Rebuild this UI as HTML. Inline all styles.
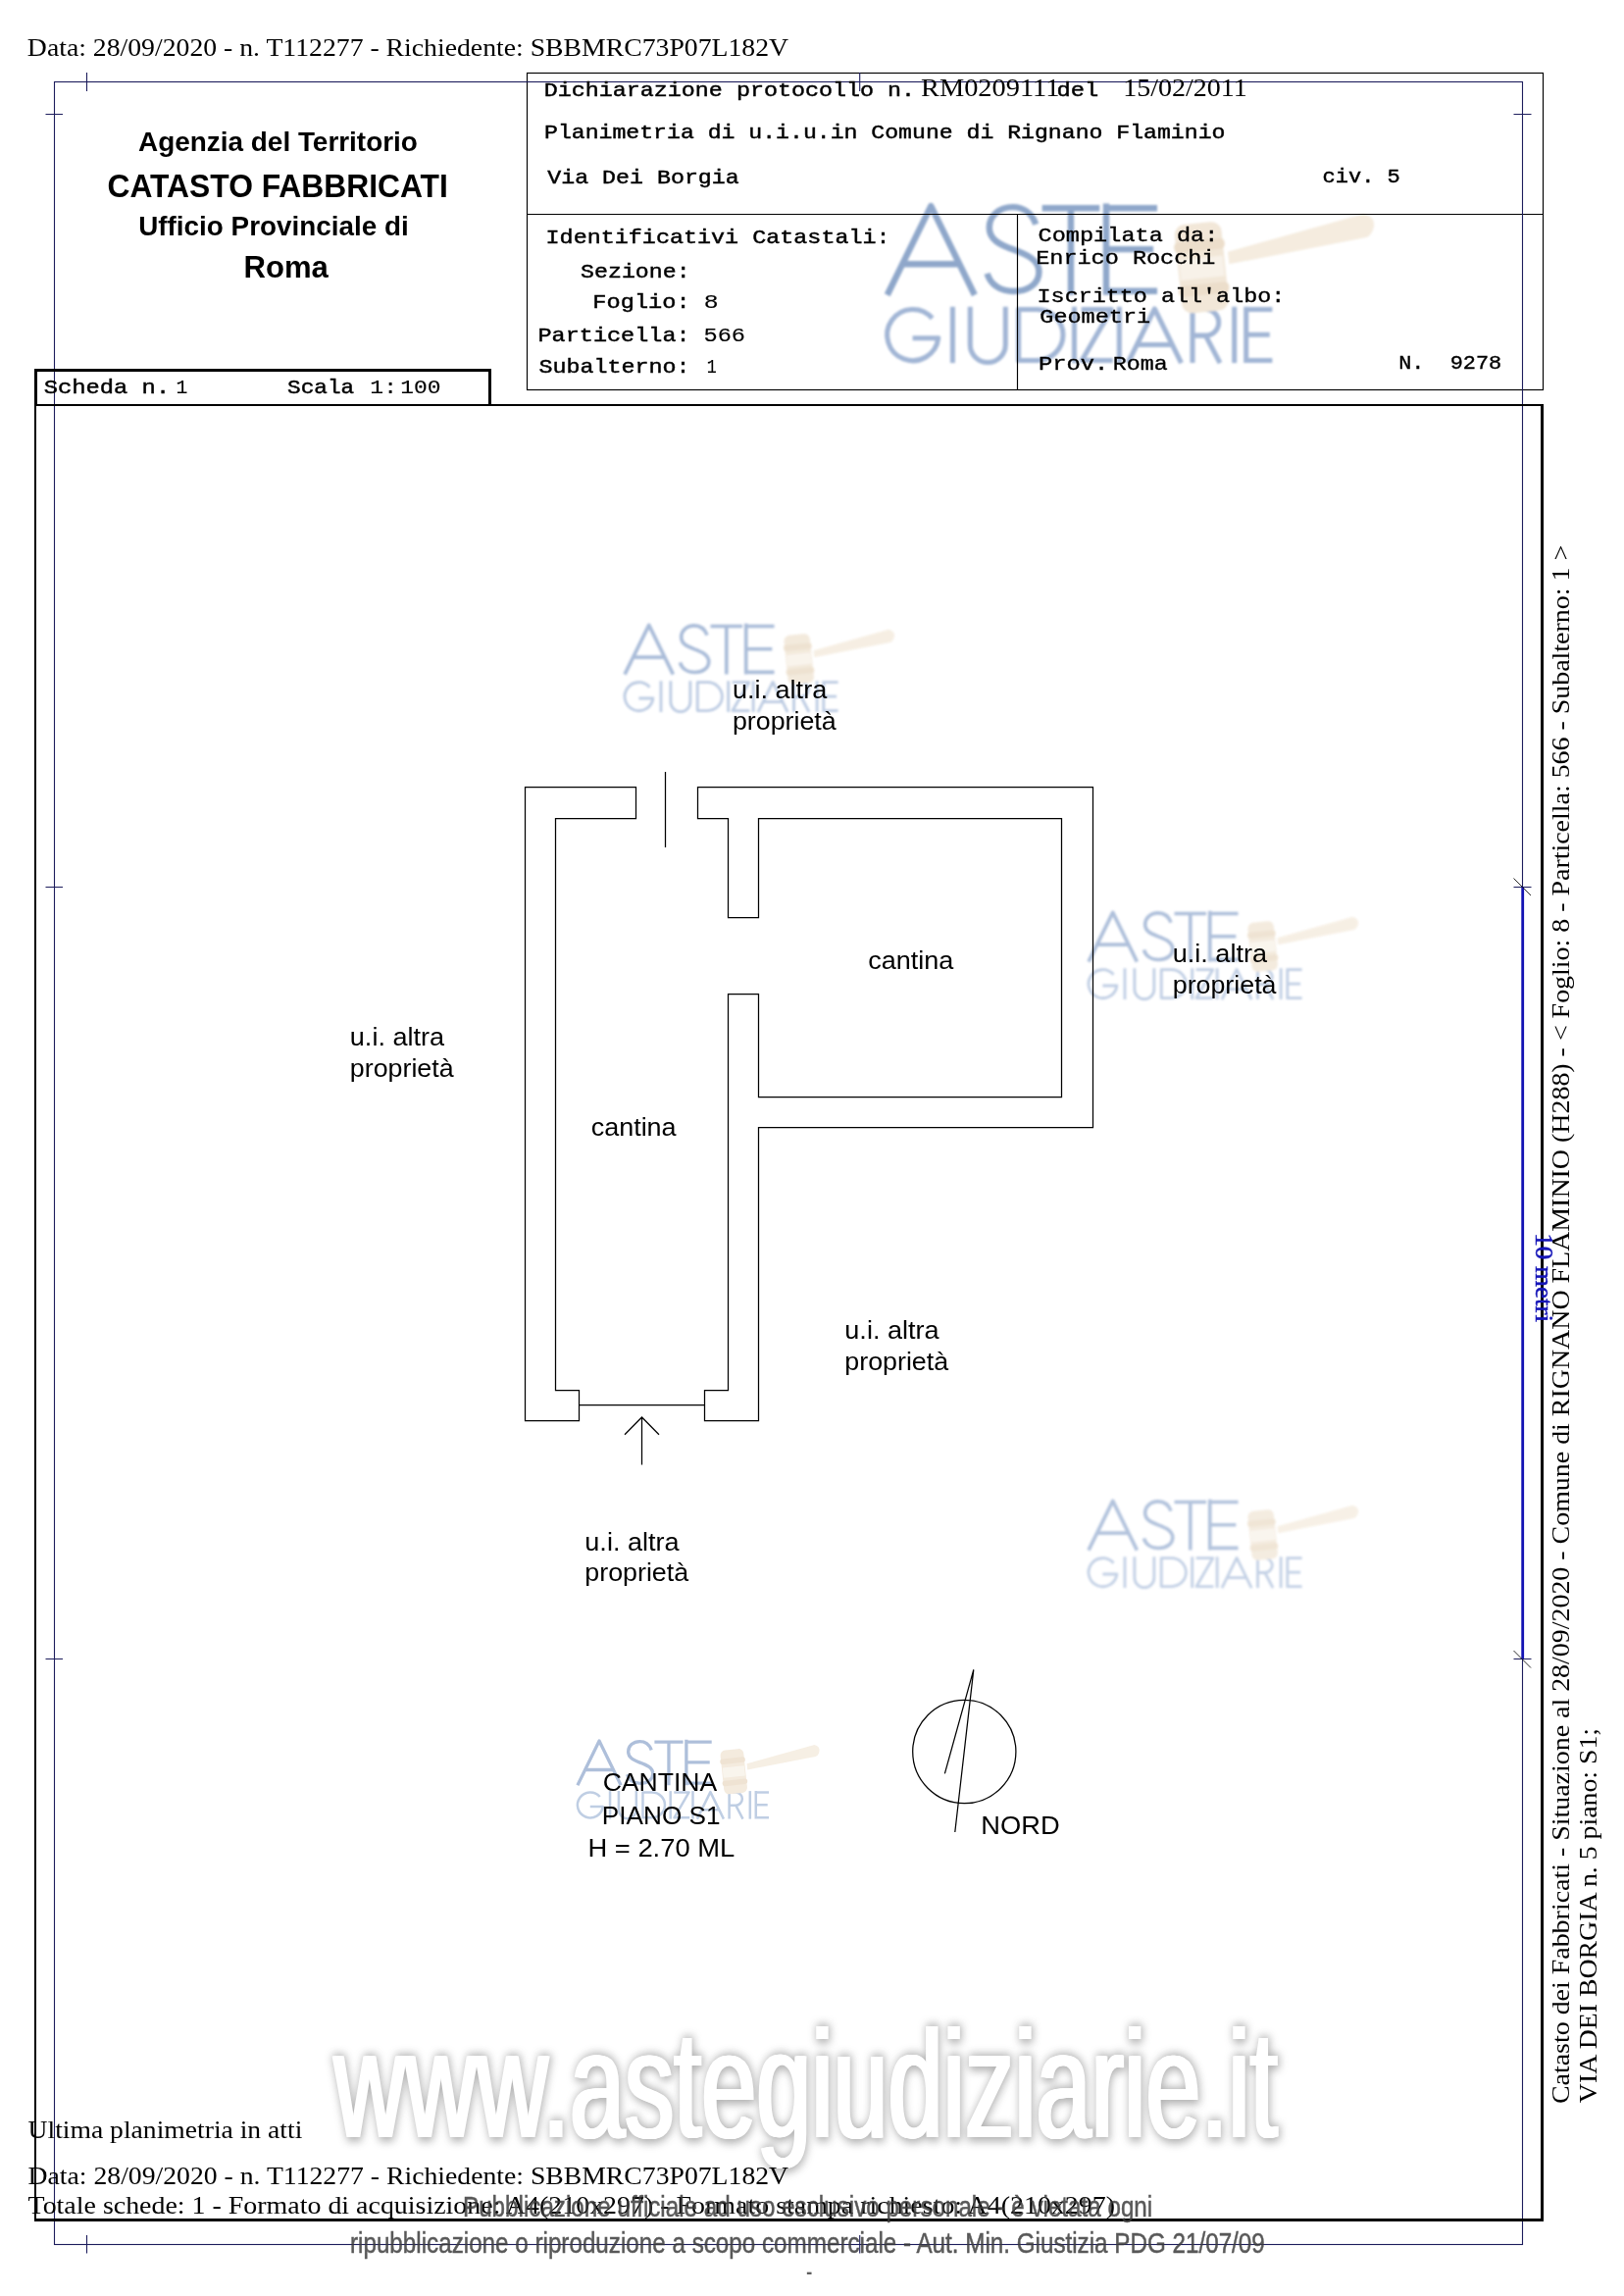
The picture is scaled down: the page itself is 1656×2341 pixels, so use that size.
<!DOCTYPE html>
<html><head><meta charset="utf-8"><title>Planimetria</title>
<style>html,body{margin:0;padding:0;background:#fff}svg{display:block;will-change:transform}text{white-space:pre}</style></head>
<body>
<svg width="1656" height="2341" viewBox="0 0 1656 2341">
<defs>
<filter id="blur4" x="-5%" y="-20%" width="110%" height="140%"><feGaussianBlur stdDeviation="4.2"/></filter>
<filter id="lblur" x="-5%" y="-5%" width="110%" height="110%"><feGaussianBlur stdDeviation="5.5"/></filter>
<filter id="lblurH" x="-5%" y="-5%" width="110%" height="110%"><feGaussianBlur stdDeviation="3.5"/></filter>
<filter id="blur2" x="-5%" y="-20%" width="110%" height="140%"><feGaussianBlur stdDeviation="1.5"/></filter>

<g id="logo" fill="none" stroke-linejoin="round" filter="url(#lblur)">
 <g stroke="#a6b9d7" stroke-width="25">
  <path d="M68,410 L235,70 L402,410 M128,292 L345,292"/>
  <path d="M636,140 C620,95 585,74 548,74 C495,74 458,108 458,152 C458,200 500,218 548,236 C600,255 648,275 648,322 C648,368 605,396 552,396 C500,396 462,370 450,328"/>
  <path d="M660,78 L880,78 M770,78 L770,410"/>
  <path d="M905,60 L905,410 M905,78 L1100,78 M905,235 L1085,235 M905,395 L1100,395"/>
 </g>
 <g stroke="#b9c9e1" stroke-width="19">
  <path d="M240,499 A98,98 0 1 0 263,575 L165,575"/>
  <path d="M318,455 L318,670"/>
  <path d="M385,455 L385,600 A67.5,67.5 0 0 0 520,600 L520,455"/>
  <path d="M570,660 L570,465 L640,465 A100,97.5 0 0 1 640,660 Z"/>
  <path d="M783,455 L783,670"/>
  <path d="M810,465 L925,465 L812,660 L930,660"/>
  <path d="M955,455 L955,670"/>
  <path d="M988,670 L1090,463 L1192,670 M1020,600 L1160,600"/>
  <path d="M1235,670 L1235,465 L1285,465 A50,50 0 0 1 1285,565 L1235,565 M1285,565 L1340,670"/>
  <path d="M1395,455 L1395,670"/>
  <path d="M1440,455 L1440,670 M1440,465 L1540,465 M1440,562 L1530,562 M1440,660 L1540,660"/>
 </g>
 <g stroke="none">
  <path d="M1370,245 L1890,100 Q1935,112 1928,150 Q1920,182 1900,190 L1375,292 Z" fill="#f6eee2"/>
  <g transform="rotate(-6 1270 305)">
   <rect x="1180" y="135" width="180" height="340" rx="40" fill="#f3e9db"/>
   <rect x="1173" y="200" width="194" height="42" rx="18" fill="#eee1cf"/>
   <rect x="1173" y="368" width="194" height="42" rx="18" fill="#eee1cf"/>
   <rect x="1186" y="268" width="168" height="78" fill="#f9f4ec"/>
  </g>
 </g>
</g>
<g id="logoH" fill="none" stroke-linejoin="round" filter="url(#lblurH)">
 <g stroke="#8fa7ca" stroke-width="24">
  <path d="M68,410 L235,70 L402,410 M128,292 L345,292"/>
  <path d="M636,140 C620,95 585,74 548,74 C495,74 458,108 458,152 C458,200 500,218 548,236 C600,255 648,275 648,322 C648,368 605,396 552,396 C500,396 462,370 450,328"/>
  <path d="M660,78 L880,78 M770,78 L770,410"/>
  <path d="M905,60 L905,410 M905,78 L1100,78 M905,235 L1085,235 M905,395 L1100,395"/>
 </g>
 <g stroke="#a2b6d5" stroke-width="19">
  <path d="M240,499 A98,98 0 1 0 263,575 L165,575"/>
  <path d="M318,455 L318,670"/>
  <path d="M385,455 L385,600 A67.5,67.5 0 0 0 520,600 L520,455"/>
  <path d="M570,660 L570,465 L640,465 A100,97.5 0 0 1 640,660 Z"/>
  <path d="M783,455 L783,670"/>
  <path d="M810,465 L925,465 L812,660 L930,660"/>
  <path d="M955,455 L955,670"/>
  <path d="M988,670 L1090,463 L1192,670 M1020,600 L1160,600"/>
  <path d="M1235,670 L1235,465 L1285,465 A50,50 0 0 1 1285,565 L1235,565 M1285,565 L1340,670"/>
  <path d="M1395,455 L1395,670"/>
  <path d="M1440,455 L1440,670 M1440,465 L1540,465 M1440,562 L1530,562 M1440,660 L1540,660"/>
 </g>
 <g stroke="none">
  <path d="M1370,245 L1890,100 Q1935,112 1928,150 Q1920,182 1900,190 L1375,292 Z" fill="#f5ecdf"/>
  <g transform="rotate(-6 1270 305)">
   <rect x="1180" y="135" width="180" height="340" rx="40" fill="#f2e7d8"/>
   <rect x="1173" y="200" width="194" height="42" rx="18" fill="#ecdecb"/>
   <rect x="1173" y="368" width="194" height="42" rx="18" fill="#ecdecb"/>
   <rect x="1186" y="268" width="168" height="78" fill="#f8f2e9"/>
  </g>
 </g>
</g>
</defs>
<rect width="1656" height="2341" fill="#fff"/>
<g id="wm">
<use href="#logoH" transform="translate(886.60,191.40) scale(0.26674)" opacity="1.0"/>
<use href="#logo" transform="translate(627.00,627.00) scale(0.14778)" opacity="0.95"/>
<use href="#logo" transform="translate(1100.00,920.00) scale(0.14778)" opacity="0.9"/>
<use href="#logo" transform="translate(1100.00,1520.00) scale(0.14778)" opacity="0.85"/>
<use href="#logo" transform="translate(579.90,1765.80) scale(0.13256)" opacity="0.9"/>
</g>
<g id="bigwm"><text x="341.57" y="2179.50" textLength="962.08" lengthAdjust="spacingAndGlyphs" font-family="'Liberation Sans',sans-serif" font-size="156" fill="#6a6a6a" stroke="#6a6a6a" stroke-width="7" stroke-linejoin="round" filter="url(#blur4)" opacity="0.52">www.astegiudiziarie.it</text><text x="338.87" y="2178.50" textLength="962.08" lengthAdjust="spacingAndGlyphs" font-family="'Liberation Sans',sans-serif" font-size="156" fill="#fff">www.astegiudiziarie.it</text><text x="339.72" y="2178.50" textLength="962.08" lengthAdjust="spacingAndGlyphs" font-family="'Liberation Sans',sans-serif" font-size="156" fill="#fff">www.astegiudiziarie.it</text><text x="340.57" y="2178.50" textLength="962.08" lengthAdjust="spacingAndGlyphs" font-family="'Liberation Sans',sans-serif" font-size="156" fill="#fff">www.astegiudiziarie.it</text><text x="341.42" y="2178.50" textLength="962.08" lengthAdjust="spacingAndGlyphs" font-family="'Liberation Sans',sans-serif" font-size="156" fill="#fff">www.astegiudiziarie.it</text><text x="342.27" y="2178.50" textLength="962.08" lengthAdjust="spacingAndGlyphs" font-family="'Liberation Sans',sans-serif" font-size="156" fill="#fff">www.astegiudiziarie.it</text></g>
<g id="lines">
<g fill="none" stroke="#000" stroke-width="1.15"><rect x="537.5" y="74.5" width="1036" height="323"/><path d="M537.5,218.5 H1573.5 M1037.5,218.5 V397.5"/></g>
<g fill="none" stroke="#1d1d5c" stroke-width="1.1"><rect x="55.5" y="83.5" width="1497" height="2205"/><path d="M88.5,74 V93 M88.5,2279 V2297.5 M876.7,74 V93 M876.7,2279 V2297.5 M46.5,116.5 H64 M1543.5,116.5 H1561.5 M46.5,904.5 H64 M1543.5,904.5 H1561.5 M46.5,1691.5 H64 M1543.5,1691.5 H1561.5"/></g>
<path d="M1552.7,904.5 V1691.5" stroke="#1313b4" stroke-width="2.8" fill="none"/>
<path d="M1543.5,895.5 L1561,913 M1543.5,1683 L1561,1700.5" stroke="#111" stroke-width="0.9" fill="none"/>
<g fill="#000" shape-rendering="crispEdges"><rect x="35" y="376" width="466" height="3"/><rect x="35" y="376" width="3" height="38"/><rect x="498" y="376" width="3" height="38"/><rect x="35" y="412" width="1539" height="2"/><rect x="35" y="412" width="2" height="1853"/><rect x="1571" y="412" width="3" height="1853"/><rect x="35" y="2262" width="1539" height="3"/></g>
<g fill="none" stroke="#000" stroke-width="1.25" stroke-linejoin="miter">
<path d="M535.5,802.5 H648.5 V834.5 H566.5 V1417.5 H590.5 V1448.5 H535.5 Z"/>
<path d="M711.5,802.5 H1114.5 V1149.5 H773.5 V1448.5 H718.5 V1417.5 H742.5 V1013.5 H773.5 V1118.5 H1082.5 V834.5 H773.5 V935.5 H742.5 V834.5 H711.5 Z"/>
<path d="M590.5,1432.5 H718.5 M678.5,787 V864"/>
<path d="M654.5,1445 V1493.6 M637,1462.8 L654.5,1445 L672,1462.8"/>
<circle cx="983.3" cy="1786" r="52.6"/>
<path d="M973.8,1868 L992.8,1702.4 L963.4,1808.3"/>
</g>
</g>
<g id="texts">
<text x="27.87" y="57.40" textLength="776.23" lengthAdjust="spacingAndGlyphs" font-family="'Liberation Serif',serif" font-size="26" font-weight="normal" fill="#000" >Data: 28/09/2020 - n. T112277 - Richiedente: SBBMRC73P07L182V</text>
<text x="28.57" y="2180.40" textLength="279.77" lengthAdjust="spacingAndGlyphs" font-family="'Liberation Serif',serif" font-size="26" font-weight="normal" fill="#000" >Ultima planimetria in atti</text>
<text x="28.57" y="2227.30" textLength="775.53" lengthAdjust="spacingAndGlyphs" font-family="'Liberation Serif',serif" font-size="26" font-weight="normal" fill="#000" >Data: 28/09/2020 - n. T112277 - Richiedente: SBBMRC73P07L182V</text>
<text x="28.56" y="2257.00" textLength="1108.44" lengthAdjust="spacingAndGlyphs" font-family="'Liberation Serif',serif" font-size="26" font-weight="normal" fill="#000" >Totale schede: 1 - Formato di acquisizione: A4(210x297) - Formato stampa richiesto: A4(210x297)</text>
<text x="939.06" y="98.00" textLength="141.27" lengthAdjust="spacingAndGlyphs" font-family="'Liberation Serif',serif" font-size="26" font-weight="normal" fill="#000" >RM0209111</text>
<text x="1145.31" y="98.00" textLength="126.50" lengthAdjust="spacingAndGlyphs" font-family="'Liberation Serif',serif" font-size="26" font-weight="normal" fill="#000" >15/02/2011</text>
<g transform="translate(1600,2144.2) rotate(-90)"><text x="-0.87" y="0.00" textLength="1589.19" lengthAdjust="spacingAndGlyphs" font-family="'Liberation Serif',serif" font-size="26" font-weight="normal" fill="#000" >Catasto dei Fabbricati - Situazione al 28/09/2020 - Comune di RIGNANO FLAMINIO (H288) - &lt; Foglio: 8 - Particella: 566 - Subalterno: 1 &gt;</text></g>
<g transform="translate(1628,2144.2) rotate(-90)"><text x="0.00" y="0.00" textLength="382.26" lengthAdjust="spacingAndGlyphs" font-family="'Liberation Serif',serif" font-size="26" font-weight="normal" fill="#000" >VIA DEI BORGIA n. 5 piano: S1;</text></g>
<g transform="translate(1566.4,1259.3) rotate(90)"><text x="-2.11" y="0.00" textLength="90.84" lengthAdjust="spacingAndGlyphs" font-family="'Liberation Serif',serif" font-size="26" font-weight="normal" fill="#1414b8" stroke="#1414b8" stroke-width="0.5">10 metri</text></g>
<text x="141.06" y="154.20" textLength="284.85" lengthAdjust="spacingAndGlyphs" font-family="'Liberation Sans',sans-serif" font-size="27.6" font-weight="bold" fill="#000" >Agenzia del Territorio</text>
<text x="109.51" y="201.00" textLength="347.37" lengthAdjust="spacingAndGlyphs" font-family="'Liberation Sans',sans-serif" font-size="32.8" font-weight="bold" fill="#000" >CATASTO FABBRICATI</text>
<text x="141.19" y="240.00" textLength="275.45" lengthAdjust="spacingAndGlyphs" font-family="'Liberation Sans',sans-serif" font-size="27.9" font-weight="bold" fill="#000" >Ufficio Provinciale di</text>
<text x="248.46" y="282.50" textLength="86.35" lengthAdjust="spacingAndGlyphs" font-family="'Liberation Sans',sans-serif" font-size="30.7" font-weight="bold" fill="#000" >Roma</text>
<text x="44.68" y="401.00" textLength="128.51" lengthAdjust="spacingAndGlyphs" font-family="'Liberation Mono',monospace" font-size="20.8" font-weight="normal" fill="#000" stroke="#000" stroke-width="0.45">Scheda n.</text>
<text x="179.57" y="401.00" textLength="11.86" lengthAdjust="spacingAndGlyphs" font-family="'Liberation Mono',monospace" font-size="20.8" font-weight="normal" fill="#000" stroke="#000" stroke-width="0.15">1</text>
<text x="293.13" y="401.00" textLength="68.12" lengthAdjust="spacingAndGlyphs" font-family="'Liberation Mono',monospace" font-size="20.8" font-weight="normal" fill="#000" stroke="#000" stroke-width="0.45">Scala</text>
<text x="377.34" y="401.00" textLength="27.69" lengthAdjust="spacingAndGlyphs" font-family="'Liberation Mono',monospace" font-size="20.8" font-weight="normal" fill="#000" stroke="#000" stroke-width="0.15">1:</text>
<text x="408.35" y="401.00" textLength="41.25" lengthAdjust="spacingAndGlyphs" font-family="'Liberation Mono',monospace" font-size="20.8" font-weight="normal" fill="#000" stroke="#000" stroke-width="0.15">100</text>
<text x="554.70" y="98.40" textLength="378.39" lengthAdjust="spacingAndGlyphs" font-family="'Liberation Mono',monospace" font-size="20.8" font-weight="normal" fill="#000" stroke="#000" stroke-width="0.45">Dichiarazione protocollo n.</text>
<text x="1077.40" y="98.00" textLength="42.84" lengthAdjust="spacingAndGlyphs" font-family="'Liberation Mono',monospace" font-size="20.8" font-weight="normal" fill="#000" stroke="#000" stroke-width="0.45">del</text>
<text x="555.02" y="141.00" textLength="694.41" lengthAdjust="spacingAndGlyphs" font-family="'Liberation Mono',monospace" font-size="20.8" font-weight="normal" fill="#000" stroke="#000" stroke-width="0.45">Planimetria di u.i.u.in Comune di Rignano Flaminio</text>
<text x="558.29" y="187.20" textLength="195.47" lengthAdjust="spacingAndGlyphs" font-family="'Liberation Mono',monospace" font-size="20.8" font-weight="normal" fill="#000" stroke="#000" stroke-width="0.45">Via Dei Borgia</text>
<text x="1348.63" y="186.40" textLength="79.13" lengthAdjust="spacingAndGlyphs" font-family="'Liberation Mono',monospace" font-size="20.8" font-weight="normal" fill="#000" stroke="#000" stroke-width="0.45">civ. 5</text>
<text x="556.55" y="248.30" textLength="351.05" lengthAdjust="spacingAndGlyphs" font-family="'Liberation Mono',monospace" font-size="20.8" font-weight="normal" fill="#000" stroke="#000" stroke-width="0.45">Identificativi Catastali:</text>
<text x="592.11" y="283.20" textLength="111.45" lengthAdjust="spacingAndGlyphs" font-family="'Liberation Mono',monospace" font-size="20.8" font-weight="normal" fill="#000" stroke="#000" stroke-width="0.45">Sezione:</text>
<text x="604.34" y="314.00" textLength="99.32" lengthAdjust="spacingAndGlyphs" font-family="'Liberation Mono',monospace" font-size="20.8" font-weight="normal" fill="#000" stroke="#000" stroke-width="0.45">Foglio:</text>
<text x="717.65" y="314.00" textLength="14.88" lengthAdjust="spacingAndGlyphs" font-family="'Liberation Mono',monospace" font-size="20.8" font-weight="normal" fill="#000" stroke="#000" stroke-width="0.15">8</text>
<text x="548.49" y="347.50" textLength="155.14" lengthAdjust="spacingAndGlyphs" font-family="'Liberation Mono',monospace" font-size="20.8" font-weight="normal" fill="#000" stroke="#000" stroke-width="0.45">Particella:</text>
<text x="717.52" y="347.50" textLength="42.53" lengthAdjust="spacingAndGlyphs" font-family="'Liberation Mono',monospace" font-size="20.8" font-weight="normal" fill="#000" stroke="#000" stroke-width="0.15">566</text>
<text x="549.40" y="380.20" textLength="154.19" lengthAdjust="spacingAndGlyphs" font-family="'Liberation Mono',monospace" font-size="20.8" font-weight="normal" fill="#000" stroke="#000" stroke-width="0.45">Subalterno:</text>
<text x="720.80" y="380.20" textLength="9.99" lengthAdjust="spacingAndGlyphs" font-family="'Liberation Mono',monospace" font-size="20.8" font-weight="normal" fill="#000" stroke="#000" stroke-width="0.15">1</text>
<text x="1058.61" y="245.50" textLength="183.68" lengthAdjust="spacingAndGlyphs" font-family="'Liberation Mono',monospace" font-size="19.8" font-weight="normal" fill="#000" stroke="#000" stroke-width="0.35">Compilata da:</text>
<text x="1056.22" y="268.70" textLength="183.24" lengthAdjust="spacingAndGlyphs" font-family="'Liberation Mono',monospace" font-size="19.8" font-weight="normal" fill="#000" stroke="#000" stroke-width="0.35">Enrico Rocchi</text>
<text x="1057.55" y="307.50" textLength="252.80" lengthAdjust="spacingAndGlyphs" font-family="'Liberation Mono',monospace" font-size="19.8" font-weight="normal" fill="#000" stroke="#000" stroke-width="0.35">Iscritto all'albo:</text>
<text x="1060.31" y="329.00" textLength="112.85" lengthAdjust="spacingAndGlyphs" font-family="'Liberation Mono',monospace" font-size="19.8" font-weight="normal" fill="#000" stroke="#000" stroke-width="0.35">Geometri</text>
<text x="1058.90" y="376.60" textLength="71.34" lengthAdjust="spacingAndGlyphs" font-family="'Liberation Mono',monospace" font-size="19.8" font-weight="normal" fill="#000" stroke="#000" stroke-width="0.35">Prov.</text>
<text x="1134.73" y="376.60" textLength="55.95" lengthAdjust="spacingAndGlyphs" font-family="'Liberation Mono',monospace" font-size="19.8" font-weight="normal" fill="#000" stroke="#000" stroke-width="0.35">Roma</text>
<text x="1426.24" y="376.00" textLength="104.97" lengthAdjust="spacingAndGlyphs" font-family="'Liberation Mono',monospace" font-size="19.8" font-weight="normal" fill="#000" stroke="#000" stroke-width="0.35">N.  9278</text>
<text x="746.91" y="711.50" textLength="96.32" lengthAdjust="spacingAndGlyphs" font-family="'Liberation Sans',sans-serif" font-size="26.7" font-weight="normal" fill="#000" >u.i. altra</text>
<text x="746.92" y="743.80" textLength="105.81" lengthAdjust="spacingAndGlyphs" font-family="'Liberation Sans',sans-serif" font-size="26.7" font-weight="normal" fill="#000" >proprietà</text>
<text x="356.81" y="1066.30" textLength="96.32" lengthAdjust="spacingAndGlyphs" font-family="'Liberation Sans',sans-serif" font-size="26.7" font-weight="normal" fill="#000" >u.i. altra</text>
<text x="356.82" y="1097.60" textLength="105.81" lengthAdjust="spacingAndGlyphs" font-family="'Liberation Sans',sans-serif" font-size="26.7" font-weight="normal" fill="#000" >proprietà</text>
<text x="1195.71" y="980.80" textLength="96.32" lengthAdjust="spacingAndGlyphs" font-family="'Liberation Sans',sans-serif" font-size="26.7" font-weight="normal" fill="#000" >u.i. altra</text>
<text x="1195.72" y="1013.30" textLength="105.81" lengthAdjust="spacingAndGlyphs" font-family="'Liberation Sans',sans-serif" font-size="26.7" font-weight="normal" fill="#000" >proprietà</text>
<text x="861.31" y="1364.50" textLength="96.32" lengthAdjust="spacingAndGlyphs" font-family="'Liberation Sans',sans-serif" font-size="26.7" font-weight="normal" fill="#000" >u.i. altra</text>
<text x="861.32" y="1397.00" textLength="105.81" lengthAdjust="spacingAndGlyphs" font-family="'Liberation Sans',sans-serif" font-size="26.7" font-weight="normal" fill="#000" >proprietà</text>
<text x="596.31" y="1581.00" textLength="96.32" lengthAdjust="spacingAndGlyphs" font-family="'Liberation Sans',sans-serif" font-size="26.7" font-weight="normal" fill="#000" >u.i. altra</text>
<text x="596.32" y="1612.30" textLength="105.81" lengthAdjust="spacingAndGlyphs" font-family="'Liberation Sans',sans-serif" font-size="26.7" font-weight="normal" fill="#000" >proprietà</text>
<text x="885.15" y="988.00" textLength="87.27" lengthAdjust="spacingAndGlyphs" font-family="'Liberation Sans',sans-serif" font-size="26.7" font-weight="normal" fill="#000" >cantina</text>
<text x="602.66" y="1157.90" textLength="86.97" lengthAdjust="spacingAndGlyphs" font-family="'Liberation Sans',sans-serif" font-size="26.7" font-weight="normal" fill="#000" >cantina</text>
<text x="614.65" y="1826.40" textLength="116.62" lengthAdjust="spacingAndGlyphs" font-family="'Liberation Sans',sans-serif" font-size="26.7" font-weight="normal" fill="#000" >CANTINA</text>
<text x="613.86" y="1859.70" textLength="120.60" lengthAdjust="spacingAndGlyphs" font-family="'Liberation Sans',sans-serif" font-size="26.7" font-weight="normal" fill="#000" >PIANO S1</text>
<text x="599.46" y="1892.80" textLength="149.82" lengthAdjust="spacingAndGlyphs" font-family="'Liberation Sans',sans-serif" font-size="26.7" font-weight="normal" fill="#000" >H = 2.70 ML</text>
<text x="1000.27" y="1869.70" textLength="80.38" lengthAdjust="spacingAndGlyphs" font-family="'Liberation Sans',sans-serif" font-size="26.7" font-weight="normal" fill="#000" >NORD</text>
<text x="472.01" y="2259.70" textLength="703.19" lengthAdjust="spacingAndGlyphs" font-family="'Liberation Sans',sans-serif" font-size="29" font-weight="normal" fill="#3c3c3c" stroke="#3c3c3c" stroke-width="0.5" opacity="0.85">Pubblicazione ufficiale ad uso esclusivo personale - è vietata ogni</text>
<text x="356.99" y="2296.60" textLength="932.79" lengthAdjust="spacingAndGlyphs" font-family="'Liberation Sans',sans-serif" font-size="29" font-weight="normal" fill="#3c3c3c" stroke="#3c3c3c" stroke-width="0.5" opacity="0.85">ripubblicazione o riproduzione a scopo commerciale - Aut. Min. Giustizia PDG 21/07/09</text>
<text x="822.10" y="2326.00" textLength="6.39" lengthAdjust="spacingAndGlyphs" font-family="'Liberation Sans',sans-serif" font-size="30" font-weight="normal" fill="#5e5e5e" >-</text>
</g>
</svg>
</body></html>
